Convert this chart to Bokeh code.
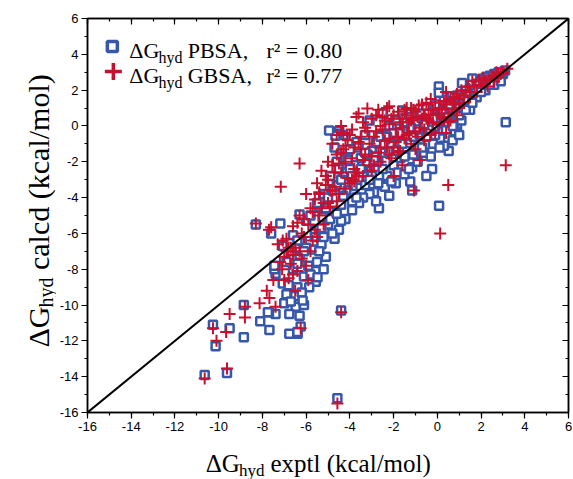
import math
from bokeh.plotting import figure
from bokeh.layouts import row, column
from bokeh.models import (Range1d, LinearAxis, SingleIntervalTicker, Label,
                          ColumnDataSource, CustomJSTickFormatter)
from bokeh.embed import file_html
from bokeh.resources import INLINE

# hydration free energies (kcal/mol): experimental vs. calculated
pbsa_expt = [
    3.1, 3.0, 2.9, 2.8, 2.7, 2.6, 2.5, 2.4, 2.3, 2.2, 2.1, 2.0, 1.9, 1.8, 1.7, 1.6, 1.5, 1.4, 1.3, 1.2,
    1.13, 1.1, 1.0, 0.9, 0.9, 0.8, 0.7, 0.6, 0.52, 0.5, 0.4, 0.3, 0.2, 0.13, 0.1, 0.07, 0.07, 0.0, -0.1, -0.2,
    -0.24, -0.3, -0.4, -0.5, -0.6, -0.7, -0.8, -0.9, -1.0, -1.1, -1.15, -1.24, -1.15, -1.3, -1.4, -1.5, -1.6, -1.7, -1.8, -1.9,
    -2.0, -2.1, -2.2, -2.3, -2.4, -2.5, -2.5, -2.6, -2.67, -2.7, -2.8, -2.9, -3.0, -3.1, -3.1, -3.2, -3.3, -3.4, -3.5, -3.58,
    -3.6, -3.7, -3.8, -3.88, -3.9, -4.0, -4.1, -4.2, -4.3, -4.3, -4.4, -4.5, -4.6, -4.66, -4.95, -4.5, -4.6, -4.7, -4.8, -4.9,
    -5.0, -5.1, -5.25, -5.2, -5.3, -5.4, -5.5, -5.56, -5.56, -5.6, -5.7, -5.86, -5.9, -6.0, -6.1, -6.1, -6.2, -6.25, -6.3, -6.3,
    -6.39, -6.4, -6.48, -6.5, -6.6, -6.66, -6.77, -6.77, -6.9, -6.9, -7.07, -7.07, -7.18, -7.4, -7.4, -7.45, -7.6, -7.68, -7.7, -8.1,
    -8.3, -8.85, -8.85, -9.5, -9.62, -10.14, -10.26, -10.64, -4.57, -4.4, 0.08, 3.13,
    -5.0, -4.8, -4.6, -4.4, -4.2, -4.0, -3.8, -3.6, -3.4, -3.2, -3.0, -2.8, -2.6, -2.4, -2.2, -2.0, -1.8, -1.6, -1.4, -1.2,
    -1.0, -0.8, -0.6, -0.4, -0.2, 0.2, 0.4, 0.6, 0.8, 1.0, 1.2, 1.4, -5.6, -5.8, -6.0, -6.2, -6.4, -6.6, -6.8, -7.0,
    -5.4, -5.2, -4.8, -4.4, -3.9, -3.3, -2.8, -2.2, -1.9, -1.5, -0.9, -0.5, 0.3, 0.7, 1.5, 1.8, 2.2, 2.6, 2.9,
    -7.45, -6.16, -5.48, -6.3, -6.4, -7.75,
    -4.7, -4.5, -4.3, -4.1, -3.9, -3.7, -3.5, -3.3, -3.1, -2.9, -2.7, -2.5, -2.3, -2.1, -1.9, -1.7, -1.5, -1.3, -1.1, -0.9,
    -0.7, -0.5, -0.3, -0.1, 0.1, 0.3, 0.5, 0.7, 1.0, 1.3, 1.6, 2.0, 2.4, -5.1, -5.3, -5.5, -5.8, -6.1, -6.4, -6.7,
    -5.2, -4.9, -4.6,
]
pbsa_calc = [
    3.1, 2.9, 2.8, 3.0, 2.7, 2.9, 2.6, 2.8, 2.5, 2.7, 2.4, 2.6, 2.2, 2.5, 2.0, 2.65, 2.3, 1.8, 2.1, 1.5,
    2.4, 0.3, 1.2, -0.15, 1.7, 0.8, 1.4, 0.2, -1.4, 1.0, 0.5, 1.6, -0.3, -0.7, 0.9, 2.2, 1.85, 0.3, 1.2, -1.0,
    -2.4, 0.6, -0.2, 1.0, 0.1, -0.4, 0.7, -1.2, 0.2, -0.6, -2.3, -3.1, -3.6, 0.5, -1.4, -0.2, 0.86, -1.8, -0.6, 0.3,
    -2.2, -1.0, 0.0, -2.8, -1.5, 0.7, -0.5, -3.3, -4.6, -2.0, -0.9, -3.7, -1.4, -3.8, 0.3, -2.5, -0.5, -4.0, -1.8, -4.3,
    -3.0, -0.9, -2.2, -3.4, -4.7, -1.3, -3.6, -5.2, -0.5, -2.6, -4.4, -0.3, -0.45, -0.54, -0.26, -5.8, -3.3, -6.3, -4.8, -2.8,
    -5.5, -7.3, -5.1, -3.8, -6.6, -4.5, -7.6, -8.1, -8.7, -5.8, -6.9, -9.0, -7.8, -5.3, -10.0, -8.4, -6.4, -11.2, -4.95, -7.3,
    -11.6, -9.0, -10.1, -9.5, -8.0, -7.0, -10.5, -11.6, -9.4, -7.6, -8.8, -6.7, -5.45, -8.25, -10.5, -8.0, -6.0, -11.4, -10.4, -10.9,
    -5.5, -10.0, -11.8, -11.3, -13.8, -12.3, -11.1, -13.9, -15.2, -10.3, -4.45, 0.2,
    -4.0, -3.6, -2.0, -3.0, -1.8, -2.4, -3.8, -1.2, -2.6, -1.6, -2.8, -1.7, -0.6, -3.4, -1.4, -0.4, -2.6, -1.0, 0.2, -0.1,
    -1.6, -0.5, -1.5, 0.7, 0.4, 0.8, -0.2, 1.2, -0.3, 0.6, 1.0, 1.4, -6.2, -8.3, -6.8, -9.3, -7.7, -6.1, -8.9, -9.9,
    -7.0, -8.0, -6.0, -5.3, -4.2, -3.3, -4.2, -3.9, -3.2, -2.7, -2.0, -2.8, -1.1, -0.8, 0.9, 1.6, 2.0, 2.3, 2.5,
    -7.8, -9.75, -8.45, -10.6, -11.5, -10.4,
    -1.2, -2.4, -3.9, -1.9, -2.8, -4.0, -2.4, -1.5, -3.0, -1.9, -3.2, -2.4, -0.6, -3.1, -1.4, -0.4, -1.7, -2.4, -1.6, -0.2,
    -1.2, -0.6, -1.7, -0.5, -1.2, 0.2, 0.5, 0.0, -0.5, 0.9, 1.3, 1.9, 2.3, -4.6, -5.7, -4.3, -5.0, -7.0, -6.4, -9.8,
    -6.2, -5.2, -4.9,
]

gbsa_expt = [
    3.2, 3.0, 2.9, 2.8, 2.7, 2.5, 2.4, 2.2, 2.0, 1.9, 1.7, 1.6, 1.5, 1.3, 1.2, 1.0, 0.9, 0.8, 0.7, 0.6,
    0.5, 0.4, 0.3, 0.2, 0.1, 0.0, -0.1, -0.2, -0.3, -0.4, -0.5, -0.6, -0.7, -0.85, -0.9, -1.0, -1.07, -1.1, -1.2, -1.3,
    -1.4, -1.5, -1.6, -1.7, -1.8, -1.9, -2.0, -2.1, -2.2, -2.3, -2.4, -2.5, -2.6, -2.7, -2.8, -2.9, -3.0, -3.1, -3.2, -3.3,
    -3.4, -3.5, -3.6, -3.7, -3.8, -3.9, -4.0, -4.1, -4.2, -4.3, -4.4, -4.5, -4.6, -4.7, -4.8, -4.9, -5.0, -5.1, -5.2, -5.3,
    -5.4, -5.6, -5.5, -5.7, -5.8, -5.9, -6.0, -6.1, -6.2, -6.3, -6.3, -6.4, -6.5, -6.6, -6.7, -6.8, -6.9, -7.0, -7.1, -7.16,
    -7.3, -7.4, -7.6, -7.68, -8.13, -8.3, -8.8, -8.8, -9.5, -9.66, -10.1, -10.26, -10.64, -9.62, -4.57, -4.4, 0.13, 0.5, 3.13, -6.25,
    -5.0, -4.8, -4.6, -4.4, -4.2, -4.0, -3.8, -3.6, -3.4, -3.2, -3.0, -2.8, -2.6, -2.4, -2.2, -2.0, -1.8, -1.6, -1.4, -1.2,
    -1.0, -0.8, -0.6, -0.4, -0.2, 0.2, 0.4, 0.6, 0.8, 1.0, 1.1, 1.4, 1.8, 2.1, 2.6, -5.2, -5.4, -5.6, -5.8, -6.0,
    -6.2, -6.4, -6.6, -6.8, -7.0, -7.2, -5.5, -4.7, -3.9, -6.5, -5.9, -7.5, -7.8, -7.7, -7.07, -6.7, -5.1, -5.4, -4.8,
    -4.5, -4.3, -4.1, -3.9, -3.7, -3.5, -3.3, -3.1, -2.9, -2.7, -2.5, -2.3, -2.1, -1.9, -1.7, -1.5, -1.3, -1.1, -0.9, -0.7,
    -0.5, -0.3, -0.1, 0.1, 0.3, 0.5, 0.7, 0.9, 1.2, 1.5, 2.3, 2.8, -4.9, -5.3, -5.7, -6.1, -6.3, -6.6, -6.9, -5.0,
    -4.6, -4.2, -3.8, -3.4, -3.0, -2.6, -2.2, -1.8, -1.4, -1.0, -0.6, -4.4, -3.6, -2.2, -1.2, -0.3, 0.4, -2.0, -1.6, -0.8,
]
gbsa_calc = [
    3.2, 3.0, 2.9, 2.7, 3.0, 2.8, 2.6, 2.5, 2.3, 2.6, 2.2, 2.5, 1.9, 2.0, 1.7, 1.5, 1.8, 1.2, 0.9, 1.5,
    0.7, 1.2, 0.4, 1.0, 0.1, 0.7, 1.3, 0.2, -0.5, 0.9, 0.4, -0.2, 1.2, 1.14, 0.5, -0.3, -3.6, 0.9, -1.0, 0.2,
    1.0, -0.7, 0.4, -1.4, 0.8, -0.2, 0.6, -1.8, 0.1, 1.0, -0.8, 0.5, -1.2, 0.9, -0.3, -2.2, 0.4, -1.0, 0.97, -1.6,
    0.2, -0.6, -2.8, 0.5, -1.2, -0.2, -3.2, -0.8, -2.0, -0.4, -1.5, -3.8, -0.5, -2.6, -1.0, -4.5, -2.0, -3.3, -5.5, -2.5,
    -3.7, -4.1, -6.2, -4.8, -7.0, -5.5, -3.8, -6.2, -7.4, -2.1, -5.0, -8.1, -6.8, -5.6, -7.7, -8.5, -6.3, -7.3, -8.0, -3.4,
    -6.6, -10.1, -5.66, -9.6, -9.9, -5.45, -10.7, -10.1, -10.5, -11.5, -12.0, -11.3, -14.1, -13.55, -15.5, -10.4, -6.0, -3.3, -2.2, -11.3,
    -3.0, -2.2, -1.6, -2.6, -1.1, -0.5, -2.4, -0.9, -1.9, -0.3, -1.7, 0.6, 0.0, 0.3, -0.7, -1.2, -0.6, -0.1, 0.6, 0.3,
    0.8, -0.1, 0.6, 0.3, 0.9, 0.5, -0.4, 0.3, 1.6, 1.0, 2.0, 2.2, 1.9, 2.7, 2.5, -4.3, -5.0, -5.8, -4.6, -7.8,
    -6.0, -5.4, -7.2, -6.8, -8.6, -7.6, -3.2, -3.4, -3.0, -9.2, -8.6, -8.6, -9.2, -5.8, -6.4, -6.8, -2.8, -3.8, -3.6,
    -2.1, -1.3, -2.9, -1.8, -2.6, -1.3, -0.1, -2.2, -0.6, -1.5, -0.2, -1.2, 0.4, -0.9, 0.2, 0.9, -0.4, 0.4, -0.6, 0.4,
    1.3, 0.6, -0.4, 0.9, 1.4, 0.2, 1.3, 0.6, 1.3, 1.6, 2.2, 2.9, -3.6, -4.6, -6.4, -5.2, -7.0, -8.3, -7.0, -4.3,
    -4.2, -3.5, -3.1, -2.8, -2.5, -2.0, -1.6, -1.5, -0.5, -1.3, -0.8, 0.0, 0.7, 1.1, 1.0, 1.5, 1.9, -2.8, -2.2, -1.9,
]

# y = x reference
identity = [-16, 6]

BLUE = "#3657ab"
RED = "#c8102e"
SERIF = "Liberation Serif"
SANS = "Liberation Sans"
MID = 0.34       # distance from baseline to the middle of the em box, in em

X0, X1, Y0, Y1 = -16, 6, -16, 6
W, H = 573, 479
YL = 56          # strip holding the vertical axis title
XB = 36          # strip holding the horizontal axis title
FL, FR, FT, FB = 84, 568, 18, 412   # frame edges in page pixels

PW, PH = W - YL, H - XB
p = figure(width=PW, height=PH, output_backend="svg", toolbar_location=None,
           x_range=Range1d(X0, X1), y_range=Range1d(Y0, Y1),
           min_border_left=FL - YL, min_border_right=W - FR,
           min_border_top=FT, min_border_bottom=PH - FB)
p.xgrid.visible = False
p.ygrid.visible = False
p.outline_line_color = "black"
p.outline_line_width = 1.5

plain = CustomJSTickFormatter(code="return tick.toString();")
blank = CustomJSTickFormatter(code="return '';")

for ax in (p.xaxis[0], p.yaxis[0]):
    ax.ticker = SingleIntervalTicker(interval=2, num_minor_ticks=2)
    ax.formatter = plain
    ax.major_tick_out = 6
    ax.major_tick_in = 0
    ax.minor_tick_out = 3
    ax.minor_tick_in = 0
    ax.axis_line_width = 1.5
    ax.major_tick_line_width = 1.2
    ax.minor_tick_line_width = 1.2
    ax.major_label_text_font = SANS
    ax.major_label_text_font_size = "13px"
    ax.major_label_text_color = "black"
    ax.major_label_standoff = 3

# mirrored axes on top and right with inward ticks
for loc in ("above", "right"):
    ax = LinearAxis(ticker=SingleIntervalTicker(interval=2, num_minor_ticks=2), formatter=blank)
    ax.major_tick_out = 0
    ax.major_tick_in = 6
    ax.minor_tick_out = 0
    ax.minor_tick_in = 3
    ax.axis_line_width = 1.5
    ax.major_tick_line_width = 1.2
    ax.minor_tick_line_width = 1.2
    ax.major_label_standoff = 0
    p.add_layout(ax, loc)

pb = ColumnDataSource(dict(x=pbsa_expt, y=pbsa_calc))
gb = ColumnDataSource(dict(x=gbsa_expt, y=gbsa_calc))
p.scatter("x", "y", source=pb, marker="square", size=8, fill_color="white",
          line_color=BLUE, line_width=2.5)
p.scatter("x", "y", source=gb, marker="cross", size=12, line_color=RED, line_width=2)
p.line(identity, identity, line_color="black", line_width=2)


def dx(px):
    return X0 + (px - FL) * (X1 - X0) / (FR - FL)


def dy(py):
    return Y1 - (py - FT) * (Y1 - Y0) / (FB - FT)


def text_on(fig, x, y, text, size, angle=0.0):
    fig.add_layout(Label(x=x, y=y, text=text, text_font=SERIF,
                         text_font_size=f"{size}px", text_color="black",
                         text_align="left", text_baseline="middle", angle=angle))


# legend (positions are page pixels of each text baseline)
L, l = 22, 16
p.scatter([dx(109)], [dy(46)], marker="square", size=10, fill_color="white",
          line_color=BLUE, line_width=3.5)
p.scatter([dx(110)], [dy(71)], marker="cross", size=17, line_color=RED, line_width=3.5)
for row_y, name, r2 in ((57, "PBSA,", "r² = 0.80"), (82, "GBSA,", "r² = 0.77")):
    tx = 126
    text_on(p, dx(tx), dy(row_y - MID * L), "ΔG", L)
    text_on(p, dx(tx + 1.333 * L), dy(row_y + 5 - MID * l), "hyd", l)
    text_on(p, dx(tx + 1.333 * L + 1.5 * l + 0.25 * L), dy(row_y - MID * L), name, L)
    text_on(p, dx(264), dy(row_y - MID * L), r2, L)


# horizontal axis title strip: its frame lines up with the plot frame,
# so it shares the plot's x range
xs = figure(width=PW, height=XB, output_backend="svg", toolbar_location=None,
            x_range=Range1d(X0, X1), y_range=Range1d(0, XB),
            x_axis_location=None, y_axis_location=None,
            min_border_left=FL - YL, min_border_right=W - FR,
            min_border_top=0, min_border_bottom=0)
xs.grid.visible = False
xs.outline_line_color = None

S, s = 25, 17
bx, base = 203, 471
text_on(xs, dx(bx), H - (base - MID * S), "ΔG", S)
text_on(xs, dx(bx + 1.333 * S), H - (base + 4.5 - MID * s), "hyd", s)
text_on(xs, dx(bx + 1.333 * S + 1.5 * s + 0.25 * S), H - (base - MID * S), "exptl (kcal/mol)", S)

# vertical axis title strip, text read bottom to top
ys = figure(width=YL, height=H, output_backend="svg", toolbar_location=None,
            x_range=Range1d(0, YL), y_range=Range1d(0, H),
            x_axis_location=None, y_axis_location=None, min_border=0)
ys.grid.visible = False
ys.outline_line_color = None

Sy, sy = 30, 20
lx, ly = 48, H - 347
text_on(ys, lx - MID * Sy, ly, "ΔG", Sy, math.pi / 2)
text_on(ys, lx + 4 - MID * sy, ly + 1.333 * Sy, "hyd", sy, math.pi / 2)
text_on(ys, lx - MID * Sy, ly + 1.333 * Sy + 1.5 * sy + 0.25 * Sy, "calcd (kcal/mol)", Sy, math.pi / 2)

layout = row(ys, column(p, xs))
open("out.html", "w").write(file_html(layout, INLINE))
